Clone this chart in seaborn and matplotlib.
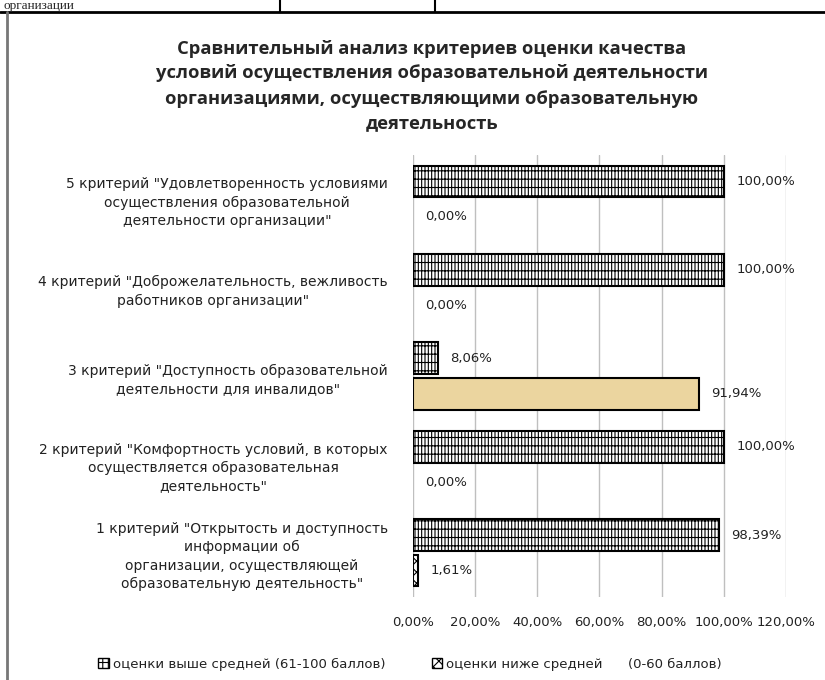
import pandas as pd
import seaborn as sns
import matplotlib.pyplot as plt
from matplotlib.patches import Patch
from matplotlib.lines import Line2D

# данные (сверху вниз, как на диаграмме)
criteria = [
    '5 критерий "Удовлетворенность условиями\nосуществления образовательной\nдеятельности организации"',
    '4 критерий "Доброжелательность, вежливость\nработников организации"',
    '3 критерий "Доступность образовательной\nдеятельности для инвалидов"',
    '2 критерий "Комфортность условий, в которых\nосуществляется образовательная\nдеятельность"',
    '1 критерий "Открытость и доступность\nинформации об\nорганизации, осуществляющей\nобразовательную деятельность"',
]
above_avg = [100.00, 100.00, 8.06, 100.00, 98.39]
below_avg = [0.00, 0.00, 91.94, 0.00, 1.61]
series = ['оценки выше средней (61-100 баллов)', 'оценки ниже средней      (0-60 баллов)']
x_ticks = [0, 20, 40, 60, 80, 100, 120]

df = pd.DataFrame({'критерий': criteria * 2,
                   'значение': above_avg + below_avg,
                   'серия': [series[0]] * 5 + [series[1]] * 5})

sns.set_theme(style='white')
plt.rcParams['font.family'] = ['DejaVu Sans']
plt.rcParams['hatch.linewidth'] = 0.8

fig = plt.figure(figsize=(8.25, 6.8), dpi=100)
ax = fig.add_axes([0.5006, 0.1221, 0.452, 0.65])

sns.barplot(data=df, y='критерий', x='значение', hue='серия', order=criteria,
            hue_order=series, orient='h', gap=0.1, legend=False, ax=ax,
            edgecolor='black', linewidth=1.5, color='white')

hatches = ['|||||--', 'xxx']
for cont, h in zip(ax.containers, hatches):
    for bar in cont:
        bar.set_facecolor('white')
        bar.set_hatch(h)
        if bar.get_width() == 0:
            bar.set_linewidth(0)
# столбец 91,94% залит бежевым
tan_bar = ax.containers[1][2]
tan_bar.set_facecolor('#EBD59F')
tan_bar.set_hatch('')

for cont, vals in zip(ax.containers, [above_avg, below_avg]):
    ax.bar_label(cont, labels=[f'{v:.2f}%'.replace('.', ',') for v in vals],
                 padding=9, fontsize=9.5, color='#222222')

ax.set_xlim(0, 120)
ax.set_xticks(x_ticks)
ax.set_xticklabels([f'{t:.2f}%'.replace('.', ',') for t in x_ticks], fontsize=9.5, color='#222222')
ax.tick_params(axis='x', length=0, pad=14)
ax.tick_params(axis='y', length=0, pad=18)
for lab in ax.get_yticklabels():
    lab.set_fontsize(10)
    lab.set_multialignment('center')
    lab.set_linespacing(1.4)
    lab.set_color('#222222')
ax.set_xlabel('')
ax.set_ylabel('')
for s in ax.spines.values():
    s.set_visible(False)
ax.grid(axis='x', color='#BFBFBF', linewidth=1)
ax.set_axisbelow(True)

fig.text(432 / 825, 1 - 86 / 680,
         'Сравнительный анализ критериев оценки качества\n'
         'условий осуществления образовательной деятельности\n'
         'организациями, осуществляющими образовательную\n'
         'деятельность',
         ha='center', va='center', fontsize=13.2, fontweight='bold',
         family='Open Sans', linespacing=1.5)

handles = [Patch(facecolor='white', edgecolor='black', hatch='|||--'),
           Patch(facecolor='white', edgecolor='black', hatch='xxx')]
fig.legend(handles, series, loc='center', bbox_to_anchor=(410 / 825, 1 - 664 / 680),
           ncol=2, frameon=False, fontsize=9.5, handlelength=0.8, handleheight=0.8,
           handletextpad=0.3, columnspacing=3.5, labelcolor='#222222')

# фрагмент таблицы сверху и рамка
fig.add_artist(Line2D([0, 1], [1 - 12 / 680] * 2, color='black', lw=2))
fig.add_artist(Line2D([280 / 825] * 2, [1 - 12 / 680, 1], color='black', lw=1.5))
fig.add_artist(Line2D([435 / 825] * 2, [1 - 12 / 680, 1], color='black', lw=1.5))
fig.add_artist(Line2D([7 / 825] * 2, [0, 1 - 12 / 680], color='#777777', lw=2))
fig.text(4 / 825, 1 - 9 / 680, 'организации', ha='left', va='baseline',
         fontsize=9.5, family='Liberation Serif')

fig.savefig('out.png', dpi=100)
